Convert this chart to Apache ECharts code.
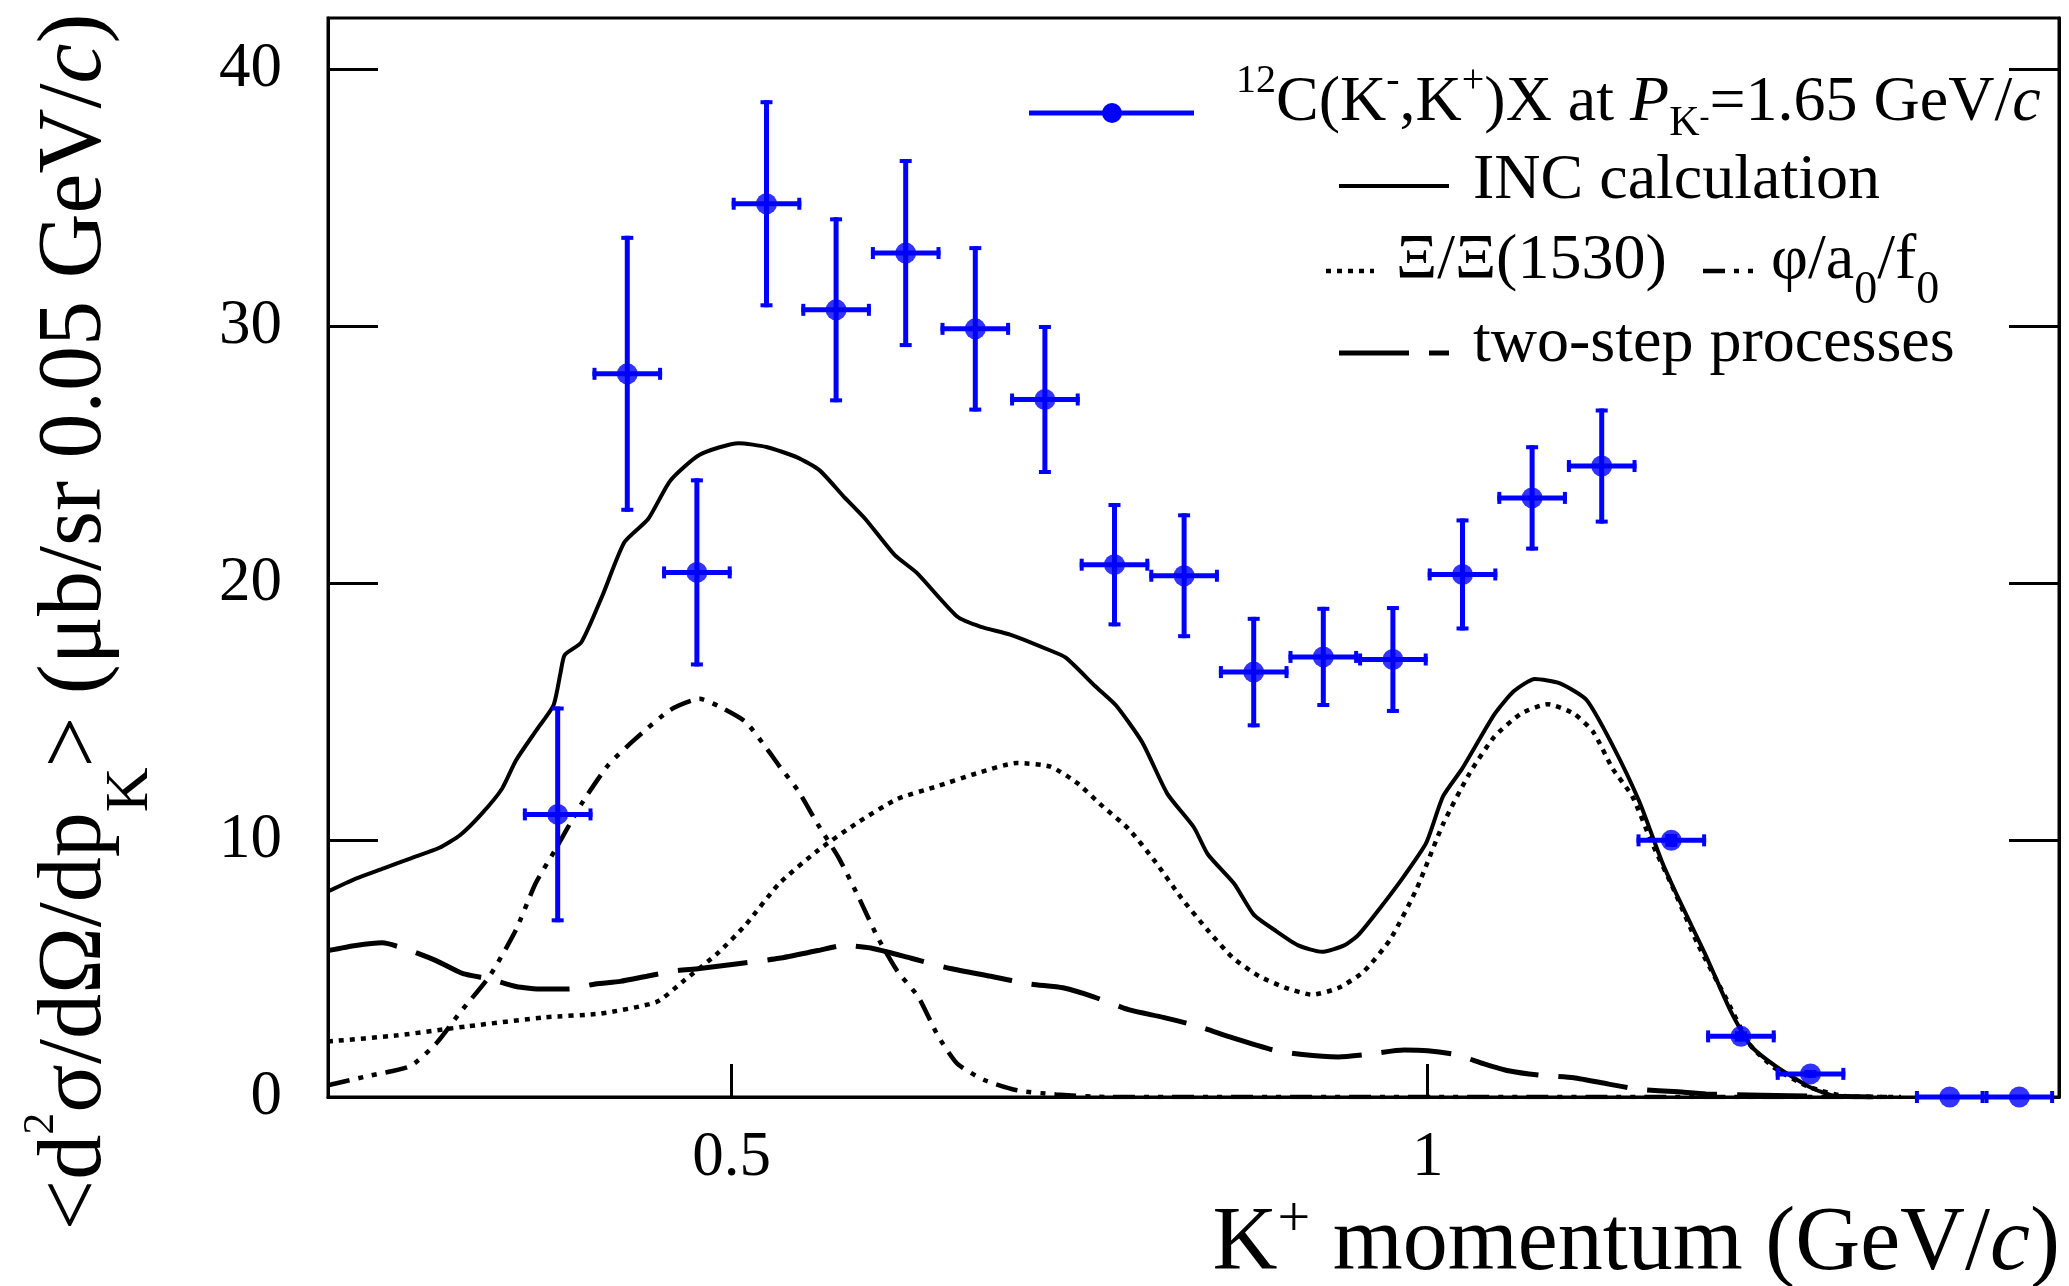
<!DOCTYPE html>
<html>
<head>
<meta charset="utf-8">
<script src="https://cdn.jsdelivr.net/npm/echarts@6/dist/echarts.min.js"></script>
<style>
  * { margin: 0; padding: 0; }
  html, body { width: 2069px; height: 1286px; background: #fff; overflow: hidden; }
  #renderDom { width: 2069px; height: 1286px; }
</style>
</head>
<body>
<div id="renderDom"></div>
<script>
// measured 12C(K-,K+)X spectrum, 0.05 GeV/c bins
const pK = [0.375, 0.425, 0.475, 0.525, 0.575, 0.625, 0.675, 0.725, 0.775, 0.825, 0.875,
  0.925, 0.975, 1.025, 1.075, 1.125, 1.175, 1.225, 1.275, 1.375, 1.425];
const yields = [11.0, 28.15, 20.42, 34.77, 30.64, 32.85, 29.9, 27.15, 20.72, 20.29, 16.54,
  17.13, 17.03, 20.34, 23.32, 24.56, 9.99, 2.36, 0.9, 0, 0];
const yErr = [4.2, 5.37, 3.66, 4.03, 3.6, 3.66, 3.22, 2.9, 2.4, 2.43, 2.15,
  1.95, 2.08, 2.18, 2.05, 2.24, 0.25, 0.2, 0.15, 0, 0];
const binHalf = 0.025;

// INC calculation (total)
const incX = [0.21, 0.23, 0.25, 0.27, 0.29, 0.305, 0.32, 0.335, 0.345, 0.36, 0.372, 0.377, 0.38, 0.392, 0.407,
  0.423, 0.44, 0.456, 0.477, 0.505, 0.525, 0.547, 0.563, 0.58, 0.596, 0.617, 0.633, 0.662, 0.679, 0.70,
  0.728, 0.74, 0.761, 0.776, 0.795, 0.813, 0.832, 0.842, 0.861, 0.875, 0.89, 0.907, 0.924, 0.94, 0.95,
  0.965, 0.983, 0.999, 1.011, 1.025, 1.048, 1.062, 1.077, 1.095, 1.114, 1.133, 1.152, 1.168, 1.18, 1.199,
  1.218, 1.232, 1.25, 1.274, 1.293, 1.32];
const incY = [8.0, 8.5, 8.9, 9.3, 9.7, 10.2, 11.0, 12.0, 13.1, 14.3, 15.25, 16.5, 17.2, 17.7, 19.5,
  21.6, 22.5, 24.0, 25.0, 25.45, 25.3, 24.9, 24.4, 23.4, 22.5, 21.1, 20.4, 18.7, 18.3, 18.0,
  17.4, 17.1, 16.0, 15.25, 13.8, 11.8, 10.5, 9.45, 8.3, 7.1, 6.5, 5.9, 5.65, 5.9, 6.3,
  7.3, 8.6, 9.9, 11.7, 12.8, 14.9, 15.8, 16.27, 16.1, 15.46, 13.67, 11.5, 9.2, 7.75, 5.6,
  3.3, 2.0, 1.2, 0.4, 0.03, 0];

// Xi / Xi(1530)
const xiX = [0.21, 0.26, 0.31, 0.366, 0.406, 0.446, 0.465, 0.49, 0.51, 0.534, 0.562, 0.591, 0.619, 0.648, 0.676,
  0.705, 0.729, 0.748, 0.766, 0.785, 0.804, 0.823, 0.842, 0.86, 0.879, 0.898, 0.917, 0.936, 0.954, 0.973,
  0.992, 1.011, 1.03, 1.048, 1.067, 1.086, 1.105, 1.119, 1.133, 1.147, 1.161, 1.175, 1.194, 1.213, 1.232,
  1.25, 1.274, 1.302, 1.34];
const xiY = [2.16, 2.4, 2.75, 3.1, 3.25, 3.7, 4.5, 5.6, 6.7, 8.3, 9.6, 10.7, 11.6, 12.1, 12.6,
  13.0, 12.86, 12.23, 11.34, 10.44, 9.18, 7.75, 6.49, 5.42, 4.7, 4.25, 3.98, 4.25, 4.88, 6.13,
  8.1, 10.62, 12.59, 14.03, 14.92, 15.29, 14.92, 14.2, 12.77, 11.7, 9.9, 8.28, 5.95, 3.98, 2.0,
  1.1, 0.39, 0.02, 0];

// phi / a0 / f0
const phiX = [0.21, 0.24, 0.269, 0.288, 0.305, 0.326, 0.345, 0.359, 0.373, 0.392, 0.411, 0.43, 0.456, 0.477, 0.491,
  0.51, 0.526, 0.534, 0.548, 0.562, 0.577, 0.591, 0.605, 0.619, 0.634, 0.648, 0.662, 0.681, 0.705, 0.733,
  0.77, 1.33];
const phiY = [0.46, 0.83, 1.2, 2.1, 3.3, 4.7, 6.5, 8.3, 9.6, 11.4, 12.9, 13.9, 15.07, 15.5, 15.2,
  14.6, 13.5, 12.9, 11.9, 10.6, 9.3, 7.8, 6.2, 4.9, 3.9, 2.4, 1.3, 0.67, 0.26, 0.1,
  0, 0];

// two-step processes
const twoX = [0.21, 0.23, 0.249, 0.269, 0.288, 0.307, 0.326, 0.345, 0.364, 0.383, 0.402, 0.42, 0.439, 0.458, 0.477,
  0.506, 0.534, 0.562, 0.581, 0.6, 0.629, 0.657, 0.686, 0.714, 0.738, 0.76, 0.785, 0.81, 0.832, 0.86,
  0.889, 0.91, 0.936, 0.955, 0.983, 1.0, 1.02, 1.04, 1.058, 1.08, 1.105, 1.13, 1.152, 1.18, 1.2,
  1.24, 1.28, 1.32];
const twoY = [5.7, 5.9, 6.0, 5.7, 5.3, 4.8, 4.6, 4.3, 4.2, 4.2, 4.4, 4.5, 4.7, 4.9, 5.0,
  5.2, 5.4, 5.7, 5.9, 5.8, 5.4, 5.0, 4.7, 4.4, 4.25, 3.9, 3.4, 3.1, 2.8, 2.3,
  1.83, 1.65, 1.56, 1.65, 1.83, 1.8, 1.65, 1.3, 1.02, 0.85, 0.75, 0.5, 0.3, 0.2, 0.12,
  0.07, 0.03, 0];

const xTicks = [0.5, 1];
const yTicks = [0, 10, 20, 30, 40];

const SERIF = "'Liberation Serif', 'Times New Roman', serif";
const BLUE = '#0000ff';
const DOT = [5, 6];
const DASHDOT = [22, 9, 5, 9, 5, 9];
const LONGDASH = [70, 20];

const pairs = (xs, ys) => xs.map((x, i) => [x, ys[i]]);

const curve = (name, xs, ys, dash, w) => ({
  type: 'line',
  name,
  data: pairs(xs, ys),
  showSymbol: false,
  smooth: 0.2,
  lineStyle: { color: '#000', width: w, type: dash },
  z: 2
});

function renderErrorBar(params, api) {
  const x = api.value(0), y = api.value(1), e = api.value(2);
  const l = api.coord([x - binHalf, y]);
  const r = api.coord([x + binHalf, y]);
  const bar = { stroke: BLUE, lineWidth: 5 };
  const cap = { stroke: BLUE, lineWidth: 4 };
  const kids = [
    { type: 'line', shape: { x1: l[0], y1: l[1], x2: r[0], y2: r[1] }, style: bar },
    { type: 'line', shape: { x1: l[0] + 2, y1: l[1] - 6, x2: l[0] + 2, y2: l[1] + 6 }, style: cap },
    { type: 'line', shape: { x1: r[0] - 2, y1: r[1] - 6, x2: r[0] - 2, y2: r[1] + 6 }, style: cap }
  ];
  if (e > 0) {
    const t = api.coord([x, y + e]);
    const b = api.coord([x, y - e]);
    kids.push(
      { type: 'line', shape: { x1: t[0], y1: t[1], x2: b[0], y2: b[1] }, style: bar },
      { type: 'line', shape: { x1: t[0] - 6, y1: t[1] + 2, x2: t[0] + 6, y2: t[1] + 2 }, style: cap },
      { type: 'line', shape: { x1: b[0] - 6, y1: b[1] - 2, x2: b[0] + 6, y2: b[1] - 2 }, style: cap }
    );
  }
  return { type: 'group', children: kids };
}

// rich text helpers
const txt = (size, extra) => Object.assign({ fontSize: size, fontFamily: SERIF, fill: '#000' }, extra || {});

const legendRich = {
  b: txt(64),
  i: txt(64, { fontStyle: 'italic' }),
  sup: txt(40, { padding: [0, 0, 44, 0] }),
  sub: txt(42, { padding: [41, 0, 0, 0] }),
  subsup: txt(30, { padding: [30, 0, 0, 0] }),
  low: txt(46, { padding: [60, 0, 0, 0] })
};

const titleRich = {
  b: txt(90),
  i: txt(90, { fontStyle: 'italic' }),
  sup: txt(44, { padding: [0, 0, 70, 0] }),
  supx: txt(58, { padding: [0, 0, 48, 0] }),
  sub: txt(62, { padding: [109, 0, 0, 0] })
};

const legendText = (x, y, text) => ({
  type: 'text', x, y, z: 20,
  style: { text, rich: legendRich, fontSize: 64, fontFamily: SERIF, fill: '#000', align: 'left', verticalAlign: 'middle' }
});
const legendLine = (x1, x2, y, dash, color, w) => ({
  type: 'line', z: 20,
  shape: { x1, y1: y, x2, y2: y },
  style: { stroke: color || '#000', lineWidth: w || 4, lineDash: dash || null }
});

const graphic = [
  // y title
  {
    type: 'text', x: 76, y: 622, rotation: Math.PI / 2, z: 20,
    style: {
      text: '{b|<d}{sup|2}{b|σ/dΩ/dp}{sub|K}{b|> (μb/sr 0.05 GeV/}{i|c}{b|)}',
      rich: titleRich, fontSize: 90, fontFamily: SERIF, fill: '#000', align: 'center', verticalAlign: 'middle'
    }
  },
  // x title
  {
    type: 'text', x: 2060, y: 1245, z: 20,
    style: {
      text: '{b|K}{supx|+}{b| momentum (GeV/}{i|c}{b|)}',
      rich: titleRich, fontSize: 90, fontFamily: SERIF, fill: '#000', align: 'right', verticalAlign: 'middle'
    }
  },
  // legend
  legendLine(1029, 1194, 113, null, BLUE, 5),
  { type: 'circle', z: 21, shape: { cx: 1112, cy: 113, r: 10 }, style: { fill: BLUE } },
  legendText(1236, 103, '{sup|12}{b|C(K}{sup|-}{b|,K}{sup|+}{b|)X at }{i|P}{sub|K}{subsup|-}{b|=1.65 GeV/}{i|c}'),
  legendLine(1339, 1449, 186),
  legendText(1473, 181, '{b|INC calculation}'),
  legendLine(1326, 1374, 271, DOT, '#000', 4.5),
  legendText(1396, 261, '{b|Ξ/Ξ(1530)}'),
  legendLine(1703, 1754, 271, DASHDOT, '#000', 4.5),
  legendText(1771, 261, '{b|φ/a}{low|0}{b|/f}{low|0}'),
  legendLine(1339, 1449, 353, LONGDASH, '#000', 5),
  legendText(1473, 344, '{b|two-step processes}')
];

const axisFont = { fontSize: 63, fontFamily: SERIF, color: '#000' };

const option = {
  animation: false,
  backgroundColor: '#fff',
  grid: {
    left: 328, right: 10, top: 18, bottom: 189,
    show: true, borderColor: '#000', borderWidth: 3,
    outerBoundsMode: 'none'
  },
  xAxis: {
    type: 'value', min: 0.21, max: 1.4535,
    axisLine: { show: true, onZero: false, lineStyle: { color: '#000', width: 3 } },
    axisTick: { show: true, inside: true, length: 33, customValues: xTicks, lineStyle: { color: '#000', width: 3 } },
    axisLabel: Object.assign({ customValues: xTicks, margin: 30 }, axisFont),
    splitLine: { show: false }
  },
  yAxis: [
    {
      type: 'value', min: 0, max: 42, position: 'left',
      axisLine: { show: true, lineStyle: { color: '#000', width: 3 } },
      axisTick: { show: true, inside: true, length: 50, customValues: yTicks, lineStyle: { color: '#000', width: 3 } },
      axisLabel: Object.assign({ customValues: yTicks, margin: 46 }, axisFont),
      splitLine: { show: false }
    },
    {
      type: 'value', min: 0, max: 42, position: 'right',
      axisLine: { show: true, lineStyle: { color: '#000', width: 3 } },
      axisTick: { show: true, inside: true, length: 50, customValues: yTicks, lineStyle: { color: '#000', width: 3 } },
      axisLabel: { show: false },
      splitLine: { show: false }
    }
  ],
  series: [
    curve('INC calculation', incX, incY, 'solid', 4),
    curve('Xi/Xi(1530)', xiX, xiY, DOT, 4.5),
    curve('phi/a0/f0', phiX, phiY, DASHDOT, 4.5),
    curve('two-step processes', twoX, twoY, LONGDASH, 5),
    {
      type: 'custom',
      name: 'data errors',
      renderItem: renderErrorBar,
      data: pK.map((x, i) => [x, yields[i], yErr[i]]),
      clip: false,
      z: 5
    },
    {
      type: 'scatter',
      name: '12C(K-,K+)X',
      data: pairs(pK, yields),
      symbol: 'circle',
      symbolSize: 21,
      itemStyle: { color: BLUE },
      clip: false,
      z: 6
    }
  ],
  graphic
};

const myChart = echarts.init(document.getElementById('renderDom'), null, { renderer: 'canvas' });
myChart.setOption(option);
</script>
</body>
</html>
